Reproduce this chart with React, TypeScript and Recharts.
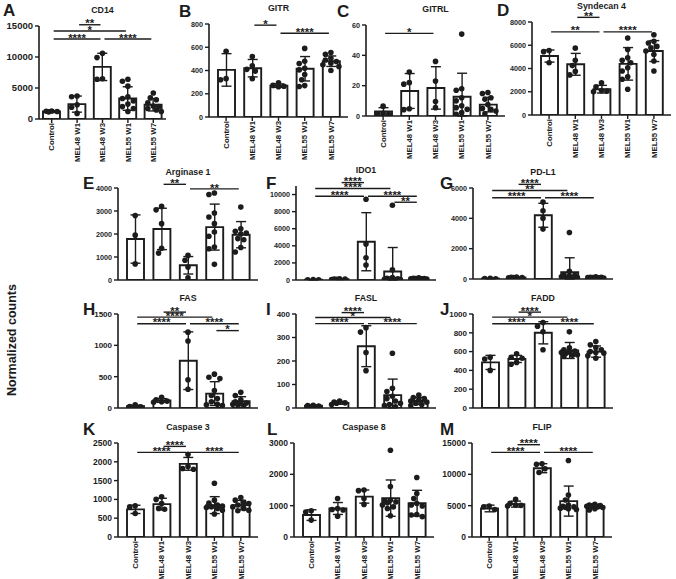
import React from 'react';
import { ComposedChart, Bar, Line, XAxis, YAxis, ErrorBar, ReferenceLine } from 'recharts';

const groups = ['Control', 'MEL48 W1', 'MEL48 W3', 'MEL55 W1', 'MEL55 W7'];
type Sig = [number, number, number, string];

// A CD14
const cd14Mean = [1200, 2400, 8400, 3300, 2300];
const cd14Sd = [150, 1300, 2200, 1900, 1000];
const cd14Points = [[1250, 1300, 1200, 1150], [3700, 3600, 2300, 1900, 900], [10600, 9900, 6500, 6400], [6400, 6100, 5300, 3600, 3300, 2900, 2400, 2000, 1700, 1200], [4200, 3400, 3100, 2600, 2100, 2000, 1700, 1450, 1200]];
const cd14Ticks = [0, 5000, 10000, 15000];
const cd14Sig: Sig[] = [[1, 2, 15200, '**'], [0, 3, 14200, '*'], [0, 2, 12900, '****'], [2, 4, 12900, '****']];

// B GITR
const gitrMean = [405, 420, 270, 415, 480];
const gitrSd = [140, 75, 15, 105, 45];
const gitrPoints = [[565, 330, 320], [520, 440, 410, 395, 330], [295, 272, 265, 260], [590, 480, 460, 420, 405, 365, 320, 270, 262], [555, 540, 505, 490, 478, 463, 450, 435, 400]];
const gitrTicks = [0, 200, 400, 600, 800];
const gitrSig: Sig[] = [[1, 2, 790, '*'], [2, 4, 720, '****']];

// C GITRL
const gitrlMean = [3, 16.5, 18.5, 12.7, 7.5];
const gitrlSd = [2.5, 11.5, 14, 15.5, 4.8];
const gitrlPoints = [[6.5, 1.8, 1.5, 1.2], [29, 22, 21, 4.8, 4.2], [36, 23, 9.5, 5.5], [54, 18, 17, 12, 10, 6.7, 5.5, 4.4, 2.2, 1.2], [15.5, 14.8, 12, 11, 7.5, 5, 4.4, 3.3, 1.5]];
const gitrlTicks = [0, 20, 40, 60];
const gitrlSig: Sig[] = [[0, 2, 54.5, '*']];

// D Syndecan 4
const sdc4Mean = [5070, 4360, 2220, 4400, 5500];
const sdc4Sd = [520, 940, 330, 1400, 900];
const sdc4Points = [[5550, 5450, 4500], [5750, 4700, 4250, 3750, 3450], [2780, 2420, 2100, 2050, 2000], [6620, 5640, 4930, 4700, 4500, 4070, 3790, 3280, 3080, 2220], [6900, 6350, 6200, 5780, 5500, 5210, 4640, 3790, 5900]];
const sdc4Ticks = [0, 2000, 4000, 6000, 8000];
const sdc4Sig: Sig[] = [[1, 2, 8400, '**'], [0, 2, 7150, '**'], [2, 4, 7150, '****']];

// E Arginase 1
const arg1Mean = [1780, 2220, 640, 2300, 1970];
const arg1Sd = [1050, 900, 380, 1000, 570];
const arg1Points = [[2800, 1950, 700], [3200, 3050, 2450, 1380, 1170], [1070, 860, 560, 100], [3780, 3720, 2910, 2740, 2450, 2090, 1900, 1430, 1360, 680], [3170, 2230, 2120, 2040, 2000, 1800, 1410, 1220, 1750]];
const arg1Ticks = [0, 1000, 2000, 3000, 4000];
const arg1Sig: Sig[] = [[1, 2, 4160, '**'], [2, 4, 3960, '**']];

// F IDO1
const ido1Mean = [30, 100, 4480, 1000, 150];
const ido1Sd = [15, 40, 3400, 2800, 60];
const ido1Points = [[40, 20, 30], [150, 80, 120, 60, 100], [9450, 4200, 2600, 1750], [8750, 1200, 300, 200, 150, 100, 80, 60, 50, 40], [250, 200, 180, 160, 150, 140, 120, 100, 90]];
const ido1Ticks = [0, 2000, 4000, 6000, 8000, 10000];
const ido1Sig: Sig[] = [[1, 2, 11400, '****'], [0, 3, 10700, '****'], [0, 2, 9800, '****'], [2, 4, 9800, '****'], [3, 4, 9100, '**']];

// G PD-L1
const pdl1Mean = [30, 100, 4200, 450, 90];
const pdl1Sd = [15, 30, 790, 950, 40];
const pdl1Points = [[40, 20, 30], [130, 90, 80, 110, 100], [5070, 4500, 4000, 3290], [3070, 500, 300, 250, 200, 150, 100, 80, 60, 50], [150, 120, 100, 90, 80, 70, 60, 50, 110]];
const pdl1Ticks = [0, 2000, 4000, 6000];
const pdl1Sig: Sig[] = [[1, 2, 6240, '****'], [0, 3, 5840, '**'], [0, 2, 5360, '****'], [2, 4, 5360, '****']];

// H FAS
const fasMean = [30, 120, 755, 230, 110];
const fasSd = [15, 30, 460, 190, 70];
const fasPoints = [[50, 25, 20], [170, 130, 110, 100, 90], [1210, 1070, 450, 300], [540, 490, 470, 280, 200, 150, 100, 60, 50, 40], [250, 200, 130, 100, 80, 60, 50, 40, 70]];
const fasTicks = [0, 500, 1000, 1500];
const fasSig: Sig[] = [[1, 2, 1530, '**'], [0, 3, 1450, '****'], [0, 2, 1345, '****'], [2, 4, 1345, '****'], [3, 4, 1235, '*']];

// I FASL
const faslMean = [10, 22, 263, 55, 30];
const faslSd = [3, 6, 87, 68, 15];
const faslPoints = [[12, 8, 10], [30, 25, 20, 15, 22], [342, 323, 236, 159], [233, 84, 70, 50, 40, 30, 20, 15, 10, 5], [55, 45, 40, 30, 25, 20, 15, 10, 35]];
const faslTicks = [0, 100, 200, 300, 400];
const faslSig: Sig[] = [[1, 2, 406, '****'], [0, 3, 385, '*'], [0, 2, 359, '****'], [2, 4, 359, '****']];

// J FADD
const faddMean = [485, 522, 800, 612, 600];
const faddSd = [75, 38, 118, 85, 60];
const faddPoints = [[522, 540, 400], [576, 540, 530, 485, 465], [910, 870, 810, 620], [810, 640, 620, 605, 590, 584, 566, 548, 600, 560], [708, 672, 644, 620, 600, 584, 555, 530, 590]];
const faddTicks = [0, 200, 400, 600, 800, 1000];
const faddSig: Sig[] = [[1, 2, 1020, '****'], [0, 3, 967, '*'], [0, 2, 896, '****'], [2, 4, 896, '****']];

// K Caspase 3
const casp3Mean = [735, 875, 1946, 848, 848];
const casp3Sd = [110, 155, 170, 225, 125];
const casp3Points = [[830, 800, 625], [1070, 1000, 890, 760, 740], [2200, 1875, 1820, 1800], [1430, 980, 900, 850, 820, 800, 760, 710, 610, 780], [1050, 980, 920, 890, 850, 800, 760, 710, 700]];
const casp3Ticks = [0, 500, 1000, 1500, 2000, 2500];
const casp3Sig: Sig[] = [[1, 2, 2410, '****'], [0, 2, 2250, '****'], [2, 4, 2250, '****']];

// L Caspase 8
const casp8Mean = [700, 910, 1290, 1240, 1080];
const casp8Sd = [170, 190, 210, 580, 410];
const casp8Points = [[840, 800, 540], [1230, 910, 880, 860, 660], [1500, 1480, 1230, 1040], [2770, 1610, 1180, 1150, 1120, 1090, 1020, 960, 910, 680], [1900, 1390, 1230, 1070, 1020, 990, 700, 650, 720]];
const casp8Ticks = [0, 1000, 2000, 3000];
const casp8Sig: Sig[] = [];

// M FLIP
const flipMean = [4550, 5250, 10980, 5730, 4930];
const flipSd = [530, 480, 720, 2400, 300];
const flipPoints = [[4930, 4820, 4390], [6000, 5360, 5100, 5050, 4950], [11700, 11600, 10900, 10300], [12200, 6700, 5900, 5100, 4900, 4800, 4700, 4600, 4500, 4400], [5200, 5100, 5000, 4950, 4900, 4800, 4700, 4500, 4300]];
const flipTicks = [0, 5000, 10000, 15000];
const flipSig: Sig[] = [[1, 2, 14730, '****'], [0, 2, 13500, '****'], [2, 4, 13500, '****']];

interface Spec {
  letter: string; title: string; mean: number[]; sd: number[]; points: number[][];
  ticks: number[]; yMax: number; sig: Sig[];
}

const specs: Spec[] = [
  { letter: 'A', title: 'CD14', mean: cd14Mean, sd: cd14Sd, points: cd14Points, ticks: cd14Ticks, yMax: 15000, sig: cd14Sig },
  { letter: 'B', title: 'GITR', mean: gitrMean, sd: gitrSd, points: gitrPoints, ticks: gitrTicks, yMax: 800, sig: gitrSig },
  { letter: 'C', title: 'GITRL', mean: gitrlMean, sd: gitrlSd, points: gitrlPoints, ticks: gitrlTicks, yMax: 60, sig: gitrlSig },
  { letter: 'D', title: 'Syndecan 4', mean: sdc4Mean, sd: sdc4Sd, points: sdc4Points, ticks: sdc4Ticks, yMax: 8000, sig: sdc4Sig },
  { letter: 'E', title: 'Arginase 1', mean: arg1Mean, sd: arg1Sd, points: arg1Points, ticks: arg1Ticks, yMax: 4000, sig: arg1Sig },
  { letter: 'F', title: 'IDO1', mean: ido1Mean, sd: ido1Sd, points: ido1Points, ticks: ido1Ticks, yMax: 11000, sig: ido1Sig },
  { letter: 'G', title: 'PD-L1', mean: pdl1Mean, sd: pdl1Sd, points: pdl1Points, ticks: pdl1Ticks, yMax: 6000, sig: pdl1Sig },
  { letter: 'H', title: 'FAS', mean: fasMean, sd: fasSd, points: fasPoints, ticks: fasTicks, yMax: 1500, sig: fasSig },
  { letter: 'I', title: 'FASL', mean: faslMean, sd: faslSd, points: faslPoints, ticks: faslTicks, yMax: 400, sig: faslSig },
  { letter: 'J', title: 'FADD', mean: faddMean, sd: faddSd, points: faddPoints, ticks: faddTicks, yMax: 1000, sig: faddSig },
  { letter: 'K', title: 'Caspase 3', mean: casp3Mean, sd: casp3Sd, points: casp3Points, ticks: casp3Ticks, yMax: 2500, sig: casp3Sig },
  { letter: 'L', title: 'Caspase 8', mean: casp8Mean, sd: casp8Sd, points: casp8Points, ticks: casp8Ticks, yMax: 3000, sig: casp8Sig },
  { letter: 'M', title: 'FLIP', mean: flipMean, sd: flipSd, points: flipPoints, ticks: flipTicks, yMax: 15000, sig: flipSig },
];

// Layout (pixel geometry)
interface Lay { ax: number; top: number; bottom: number; pw: number; pad: number; labels: boolean; lx: number; ly: number; fs: number; }
const layouts: Lay[] = [
  { ax: 39, top: 26, bottom: 119, pw: 127, pad: 0, labels: true, lx: 3, ly: 4, fs: 9.5 },
  { ax: 209, top: 24, bottom: 117, pw: 139, pad: 4, labels: true, lx: 179, ly: 5, fs: 7.2 },
  { ax: 366, top: 25, bottom: 116, pw: 139, pad: 4, labels: true, lx: 337, ly: 5, fs: 7.2 },
  { ax: 532, top: 22, bottom: 115, pw: 139, pad: 4, labels: true, lx: 497, ly: 4, fs: 7.2 },
  { ax: 118, top: 188, bottom: 280, pw: 140, pad: 4, labels: false, lx: 83, ly: 177, fs: 7.2 },
  { ax: 296, top: 186, bottom: 280, pw: 140, pad: 4, labels: false, lx: 266, ly: 177, fs: 7.2 },
  { ax: 473, top: 188, bottom: 279, pw: 140, pad: 4, labels: false, lx: 440, ly: 177, fs: 7.2 },
  { ax: 118, top: 314, bottom: 408, pw: 140, pad: 4, labels: false, lx: 83, ly: 303, fs: 8 },
  { ax: 296, top: 314, bottom: 408, pw: 140, pad: 4, labels: false, lx: 266, ly: 303, fs: 8 },
  { ax: 473, top: 314, bottom: 408, pw: 140, pad: 4, labels: false, lx: 440, ly: 303, fs: 8 },
  { ax: 118, top: 443, bottom: 537, pw: 140, pad: 4, labels: true, lx: 83, ly: 423, fs: 8.5 },
  { ax: 294, top: 443, bottom: 537, pw: 140, pad: 4, labels: true, lx: 267, ly: 423, fs: 8.5 },
  { ax: 472, top: 443, bottom: 537, pw: 140, pad: 4, labels: true, lx: 440, ly: 423, fs: 8.5 },
];

const FONT = '"Liberation Sans", Arial, Helvetica, sans-serif';
const INK = '#1c1c1c';
const YW = 50;
const MT = 34;
const MR = 8;

function jitter(vals: number[], k: number): number[] {
  const minD = 5.4;
  const order = vals.map((_, i) => i).sort((a, b) => vals[b] - vals[a]);
  const placed: { x: number; y: number }[] = [];
  const res: number[] = new Array(vals.length).fill(0);
  const cands = [0, -3, 3, -5.5, 5.5, -8, 8];
  for (const i of order) {
    const y = vals[i] * k;
    let best = 0;
    let bestScore = -1;
    for (const c of cands) {
      let md = Infinity;
      for (const p of placed) md = Math.min(md, Math.hypot(p.x - c, p.y - y));
      if (md >= minD) { best = c; bestScore = Infinity; break; }
      if (md > bestScore) { bestScore = md; best = c; }
    }
    placed.push({ x: best, y });
    res[i] = best;
  }
  return res;
}

const XTick = (props: any) => {
  const { x, y, payload } = props;
  return (
    <g transform={`translate(${x},${y})`}>
      <text transform="rotate(-90)" x={2} y={0} dy="0.35em" textAnchor="end" fontSize={7.8} fontWeight={700} fontFamily={FONT} fill={INK}>
        {payload.value}
      </text>
    </g>
  );
};

function bracketShape(p: any, lbl: string) {
  const { x1, x2, y1 } = p;
  const a = Math.min(x1, x2) + 2;
  const b = Math.max(x1, x2) - 2;
  return (
    <g>
      <line x1={a} x2={b} y1={y1} y2={y1} stroke={INK} strokeWidth={1.4} />
      <text x={(a + b) / 2} y={y1 + 2.6} textAnchor="middle" fontSize={11.5} fontWeight={700} fontFamily={FONT} fill={INK}>
        {lbl}
      </text>
    </g>
  );
}

function Panel({ spec, lay }: { spec: Spec; lay: Lay }) {
  const plotH = lay.bottom - lay.top;
  const k = plotH / spec.yMax;
  const XH = lay.labels ? 50 : 8;
  const W = YW + lay.pw + MR;
  const H = MT + plotH + XH;
  const data = groups.map((g, c) => {
    const row: any = { name: g, mean: spec.mean[c], err: [Math.min(spec.sd[c], spec.mean[c]), spec.sd[c]] };
    spec.points[c].forEach((v, i) => { row['p' + i] = v; });
    return row;
  });
  const offs = spec.points.map((vals) => jitter(vals, k));
  const maxN = Math.max(...spec.points.map((p) => p.length));
  return (
    <div style={{ position: 'absolute', left: lay.ax - YW, top: lay.top - MT }}>
      <ComposedChart width={W} height={H} data={data} margin={{ top: MT, right: MR, bottom: 0, left: 0 }}>
        <XAxis
          dataKey="name"
          type="category"
          padding={{ left: lay.pad, right: lay.pad }}
          height={XH}
          interval={0}
          tickSize={4}
          tickLine={{ stroke: INK, strokeWidth: 1.4 }}
          axisLine={{ stroke: INK, strokeWidth: 1.6 }}
          tick={lay.labels ? XTick : false}
        />
        <YAxis
          type="number"
          domain={[0, spec.yMax]}
          ticks={spec.ticks}
          allowDataOverflow
          interval={0}
          width={YW}
          tickSize={4}
          tickLine={{ stroke: INK, strokeWidth: 1.4 }}
          axisLine={{ stroke: INK, strokeWidth: 1.6 }}
          tick={{ fontSize: lay.fs, fontWeight: 700, fill: INK, fontFamily: FONT }}
        />
        <Bar dataKey="mean" fill="#fff" stroke={INK} strokeWidth={1.9} barSize={17} isAnimationActive={false}>
          <ErrorBar dataKey="err" width={5} stroke={INK} strokeWidth={1.4} />
        </Bar>
        {Array.from({ length: maxN }, (_, i) => (
          <Line
            key={'l' + i}
            dataKey={'p' + i}
            stroke="none"
            isAnimationActive={false}
            activeDot={false}
            legendType="none"
            dot={(p: any) => {
              const { cx, cy, index, value } = p;
              if (value == null || cx == null || cy == null || isNaN(cy)) return <g key={`d${i}-${index}`} />;
              return <circle key={`d${i}-${index}`} cx={cx + offs[index][i]} cy={cy} r={2.8} fill={INK} />;
            }}
          />
        ))}
        {spec.sig.map(([f, t, y, lbl], j) => (
          <ReferenceLine
            key={'s' + j}
            segment={[{ x: groups[f], y }, { x: groups[t], y }]}
            ifOverflow="visible"
            stroke={INK}
            shape={(p: any) => bracketShape(p, lbl)}
          />
        ))}
      </ComposedChart>
    </div>
  );
}

export default function App() {
  return (
    <div style={{ position: 'fixed', left: 0, top: 0, width: 676, height: 579, background: '#fff', overflow: 'hidden' }}>
      {specs.map((s, i) => <Panel key={s.letter} spec={s} lay={layouts[i]} />)}
      <svg width={676} height={579} style={{ position: 'absolute', left: 0, top: 0, pointerEvents: 'none' }}>
        {specs.map((s, i) => {
          const l = layouts[i];
          return (
            <g key={'t' + s.letter}>
              <text x={l.lx} y={l.ly + 12.2} fontSize={17} fontWeight={700} fontFamily={FONT} fill={INK}>{s.letter}</text>
              <text x={l.ax + l.pw / 2} y={l.top - 16 + 3.2} textAnchor="middle" fontSize={8.8} fontWeight={700} fontFamily={FONT} fill={INK}>{s.title}</text>
            </g>
          );
        })}
        <text transform="translate(16,340) rotate(-90)" textAnchor="middle" fontSize={12.5} fontWeight={700} fontFamily={FONT} fill={INK}>Normalized counts</text>
      </svg>
    </div>
  );
}
